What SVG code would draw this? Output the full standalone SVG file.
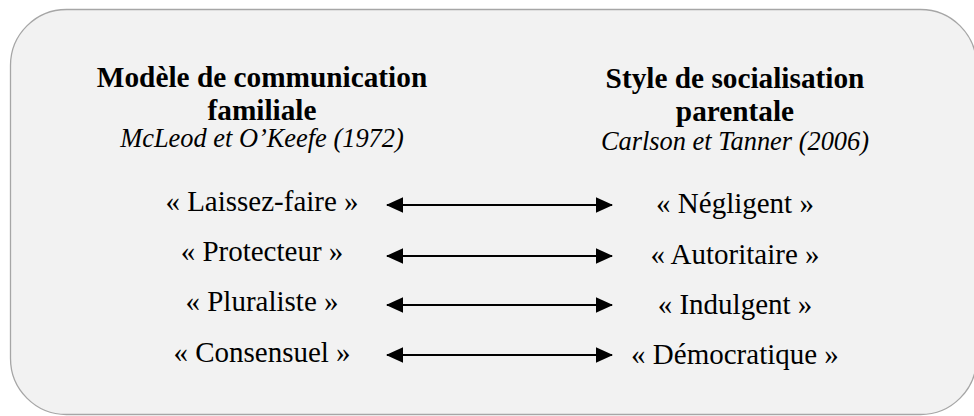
<svg xmlns="http://www.w3.org/2000/svg" width="974" height="416" viewBox="0 0 974 416">
<style>
text{font-family:"Liberation Serif","Times New Roman",serif;fill:#000;text-anchor:middle}
.h{font-weight:bold;font-size:29.3px}
.i{font-style:italic;font-size:26.4px}
.r{font-size:29px}
.arr{stroke:#000;stroke-width:2.2;fill:none;marker-start:url(#ah);marker-end:url(#ah)}
</style>
<defs>
<marker id="ah" markerUnits="userSpaceOnUse" markerWidth="17" markerHeight="16" refX="16" refY="8" orient="auto-start-reverse" viewBox="0 0 17 16">
<path d="M0,0.3 L17,8 L0,15.7 Z" fill="#000"/>
</marker>
</defs>
<rect x="10.5" y="9.5" width="966" height="405" rx="56" ry="56" fill="#f2f2f2" stroke="#a6a6a6" stroke-width="1.3"/>
<g id="left-header">
<text class="h" x="262" y="87">Modèle de communication</text>
<text class="h" x="262" y="120">familiale</text>
<text class="i" x="262" y="147">McLeod et O’Keefe (1972)</text>
</g>
<g id="right-header">
<text class="h" x="735" y="88">Style de socialisation</text>
<text class="h" x="735" y="121">parentale</text>
<text class="i" x="735" y="150">Carlson et Tanner (2006)</text>
</g>
<g id="n-laissez"><text class="r" x="262" y="211">« Laissez-faire »</text></g>
<g id="n-protecteur"><text class="r" x="262" y="261">« Protecteur »</text></g>
<g id="n-pluraliste"><text class="r" x="262" y="311">« Pluraliste »</text></g>
<g id="n-consensuel"><text class="r" x="262" y="362">« Consensuel »</text></g>
<g id="n-negligent"><text class="r" x="735" y="213">« Négligent »</text></g>
<g id="n-autoritaire"><text class="r" x="735" y="264">« Autoritaire »</text></g>
<g id="n-indulgent"><text class="r" x="735" y="314">« Indulgent »</text></g>
<g id="n-democratique"><text class="r" x="735" y="364">« Démocratique »</text></g>
<g id="connectors">
<line class="arr" x1="387" y1="205" x2="612" y2="205"/>
<line class="arr" x1="387" y1="256" x2="612" y2="256"/>
<line class="arr" x1="387" y1="305" x2="612" y2="305"/>
<line class="arr" x1="387" y1="355" x2="612" y2="355"/>
</g>
</svg>
